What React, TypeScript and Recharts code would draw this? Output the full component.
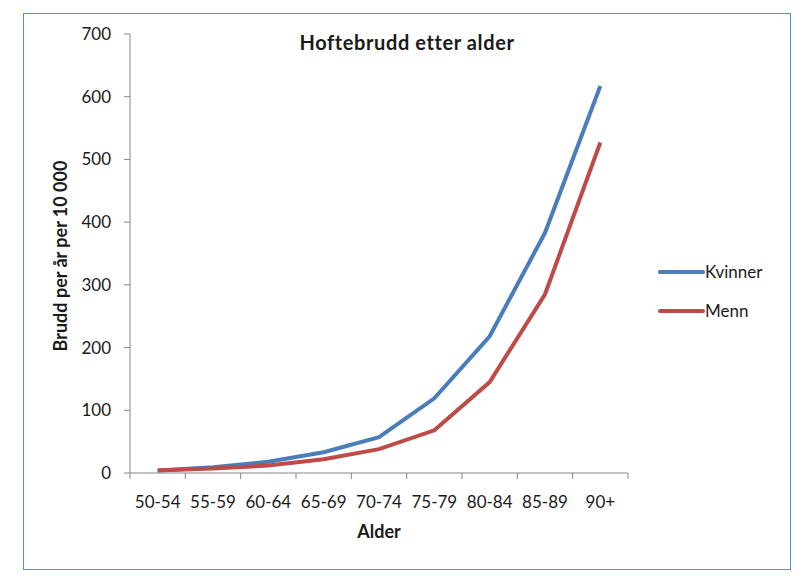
import { Label, Legend, Line, LineChart, XAxis, YAxis } from "recharts";

const ageGroups = ["50-54", "55-59", "60-64", "65-69", "70-74", "75-79", "80-84", "85-89", "90+"];
const kvinner = [4, 9, 18, 33, 57, 119, 218, 383, 617];
const menn = [4, 7, 12, 22, 38, 68, 145, 285, 527];
const yTicks = [0, 100, 200, 300, 400, 500, 600, 700];

const data = ageGroups.map((alder, i) => ({
  alder,
  Kvinner: kvinner[i],
  Menn: menn[i],
}));

const FONT = "Lato, 'Open Sans', sans-serif";
const AXIS = "#868686";
const TEXT = "#1a1a1a";

const AgeTick = (props: any) => {
  const { x, y, payload, index, visibleTicksCount } = props;
  const half = payload && payload.offset ? payload.offset : 498 / 18;
  return (
    <g>
      <line x1={x - half} y1={y} x2={x - half} y2={y + 6} stroke={AXIS} />
      {index === visibleTicksCount - 1 && (
        <line x1={x + half} y1={y} x2={x + half} y2={y + 6} stroke={AXIS} />
      )}
      <text
        x={x}
        y={y + 35}
        textAnchor="middle"
        fontFamily={FONT}
        fontSize={17}
        fill={TEXT}
      >
        {payload.value}
      </text>
    </g>
  );
};

const YTitle = () => (
  <text
    x={59}
    y={248}
    transform="rotate(-90, 59, 248)"
    textAnchor="middle"
    fontFamily={FONT}
    fontSize={18}
    fontWeight="bold"
    fill={TEXT}
  >
    Brudd per år per 10 000
  </text>
);

const renderLegend = (props: any) => (
  <div style={{ fontFamily: FONT, fontSize: 17, color: TEXT, width: 120 }}>
    {(props.payload || []).map((entry: any) => (
      <div
        key={entry.value}
        style={{ display: "flex", alignItems: "center", height: 39 }}
      >
        <svg width={47} height={8}>
          <line
            x1={2}
            y1={4}
            x2={45}
            y2={4}
            stroke={entry.color}
            strokeWidth={4}
            strokeLinecap="round"
          />
        </svg>
        <span>{entry.value}</span>
      </div>
    ))}
  </div>
);

export default function App() {
  return (
    <div style={{ position: "relative", width: 790, height: 570 }}>
      <div
        style={{
          position: "absolute",
          left: 15,
          top: 5,
          width: 768,
          height: 557,
          border: "1px solid #5a8ad0",
          boxSizing: "border-box",
        }}
      />
      <div
        style={{
          position: "absolute",
          left: 15,
          top: 22,
          width: 768,
          textAlign: "center",
          fontFamily: FONT,
          fontWeight: "bold",
          fontSize: 20,
          letterSpacing: 0.6,
          lineHeight: "24px",
          color: TEXT,
        }}
      >
        Hoftebrudd etter alder
      </div>
      <LineChart
        width={790}
        height={570}
        data={data}
        margin={{ top: 26, right: 170, bottom: 75, left: 62 }}
        style={{ position: "absolute", left: 0, top: 0 }}
      >
        <XAxis
          dataKey="alder"
          scale="band"
          height={30}
          stroke={AXIS}
          tickLine={false}
          tickSize={0}
          tickMargin={0}
          interval={0}
          tick={<AgeTick />}
        >
          <Label
            value="Alder"
            position="bottom"
            offset={22}
            style={{ fontFamily: FONT, fontSize: 18, fontWeight: "bold", fill: TEXT }}
          />
        </XAxis>
        <YAxis
          width={60}
          domain={[0, 700]}
          ticks={yTicks}
          interval={0}
          stroke={AXIS}
          tickSize={6}
          tickMargin={13}
          tick={{ fontFamily: FONT, fontSize: 17, fill: TEXT }}
        >
          <Label content={<YTitle />} />
        </YAxis>
        <Legend
          layout="horizontal"
          verticalAlign="middle"
          align="center"
          wrapperStyle={{ left: 650, top: 244, width: 120 }}
          content={renderLegend}
        />
        <Line
          type="linear"
          dataKey="Kvinner"
          stroke="#4a7ebb"
          strokeWidth={4}
          dot={false}
          activeDot={false}
          isAnimationActive={false}
        />
        <Line
          type="linear"
          dataKey="Menn"
          stroke="#be4b48"
          strokeWidth={4}
          dot={false}
          activeDot={false}
          isAnimationActive={false}
        />
      </LineChart>
    </div>
  );
}
